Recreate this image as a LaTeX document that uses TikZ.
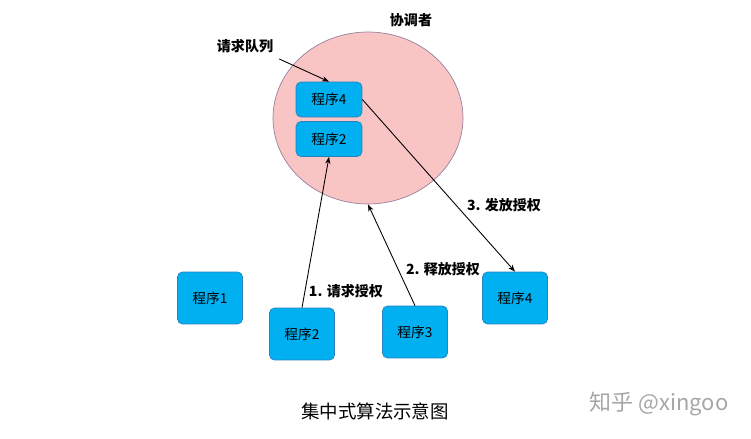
\documentclass[tikz,border=0pt]{standalone}
\usepackage{fontspec}
\newfontfamily\cjk{Noto Sans CJK SC}
\usetikzlibrary{arrows.meta, shapes.geometric}

\definecolor{procblue}{RGB}{0,176,240}
\definecolor{procedge}{RGB}{40,130,190}
\definecolor{coordpink}{RGB}{248,196,196}
\definecolor{coordedge}{RGB}{150,130,160}

\begin{document}
\begin{tikzpicture}[x=0.02cm, y=-0.02cm,
    proc/.style={draw=procedge, fill=procblue, rounded corners=0.1cm,
      minimum width=1.3cm, minimum height=1.04cm, font=\cjk\fontsize{7.8}{9}\selectfont},
    queued/.style={proc, minimum width=1.32cm, minimum height=0.7cm},
    lbl/.style={font=\cjk\bfseries\fontsize{8}{9}\selectfont},
    msg/.style={-{Stealth[length=4pt, width=3pt]}, line width=0.5pt}
  ]
  \useasboundingbox (0,0) rectangle (751,439);

  % coordinator with its request queue
  \node[ellipse, draw=coordedge, fill=coordpink, minimum width=3.8cm,
        minimum height=3.44cm, inner sep=0pt] (coord) at (368,118) {};
  \node[lbl] (coordname) at (411,20) {协调者};
  \node[queued] (q4) at (329,99.5) {程序4};
  \node[queued] (q2) at (329,139) {程序2};
  \node[lbl] (queue) at (245,46) {请求队列};
  \draw[msg] (queue.south east) -- (q4.north);

  % processes
  \node[proc] (p1) at (210,298) {程序1};
  \node[proc] (p2) at (302,334) {程序2};
  \node[proc] (p3) at (415,332) {程序3};
  \node[proc] (p4) at (515,298) {程序4};

  % messages
  \draw[msg] (p2.north) -- (q2.south);
  \draw[msg] (p3.north) -- (coord.south);
  \draw[msg] (q4.east) -- (p4.north);
  \node[lbl] (m1) at (346,291) {1. 请求授权};
  \node[lbl] (m2) at (443,269) {2. 释放授权};
  \node[lbl] (m3) at (504,205) {3. 发放授权};

  % caption
  \node[font=\cjk\fontsize{10.5}{12}\selectfont] (caption) at (375,411) {集中式算法示意图};
  \node[font=\cjk\fontsize{12.5}{14}\selectfont, text=black!35] (mark) at (659,404) {知乎 @xingoo};
\end{tikzpicture}
\end{document}
